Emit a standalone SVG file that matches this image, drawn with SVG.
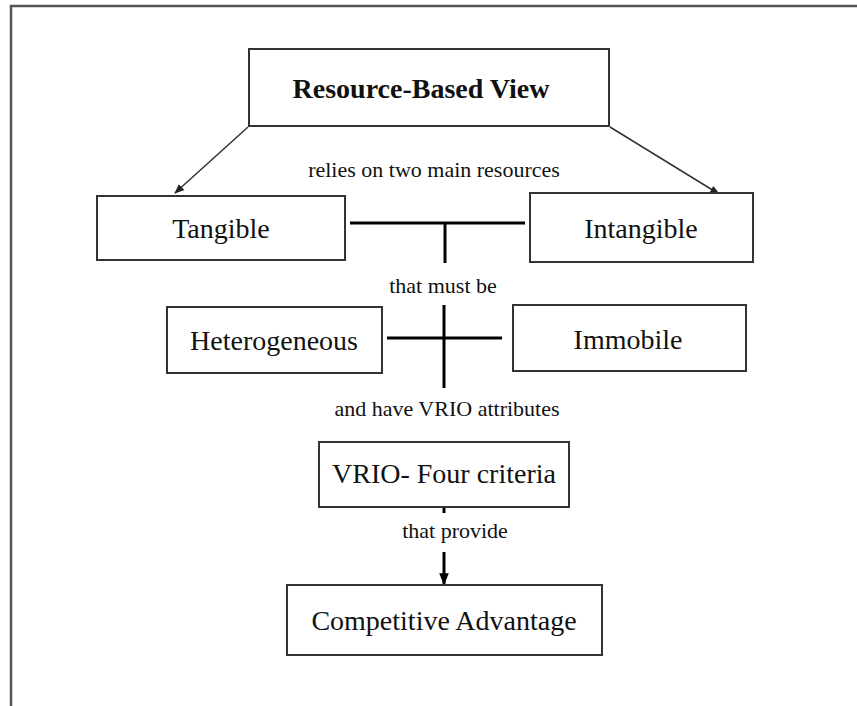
<svg xmlns="http://www.w3.org/2000/svg" width="857" height="706" viewBox="0 0 857 706">
<style>
.box{fill:#fff;stroke:#333;stroke-width:2}
.nt{font-family:"Liberation Serif","Times New Roman",serif;font-size:28px;fill:#111;text-anchor:middle}
.lb{font-family:"Liberation Serif","Times New Roman",serif;font-size:22px;fill:#111;text-anchor:middle}
.thick{stroke:#000;stroke-width:3;fill:none}
.thin{stroke:#333;stroke-width:1.5;fill:none}
</style>
<defs>
<marker id="ah" viewBox="0 0 10 10" refX="9" refY="5" markerWidth="10" markerHeight="10" markerUnits="userSpaceOnUse" orient="auto">
<path d="M0,1 L10,5 L0,9 Z" fill="#222"/>
</marker>
<marker id="ah2" viewBox="0 0 10 10" refX="9" refY="5" markerWidth="12" markerHeight="12" markerUnits="userSpaceOnUse" orient="auto">
<path d="M0,1 L10,5 L0,9 Z" fill="#000"/>
</marker>
</defs>
<rect width="857" height="706" fill="#fff"/>
<path d="M11,706 V6 H857" fill="none" stroke="#555" stroke-width="2.5"/>
<g id="connectors">
<line class="thin" x1="248" y1="127" x2="175" y2="193" marker-end="url(#ah)"/>
<line class="thin" x1="610" y1="127" x2="719" y2="194" marker-end="url(#ah)"/>
<line class="thick" x1="350" y1="223" x2="525" y2="223"/>
<line class="thick" x1="445" y1="223" x2="445" y2="263"/>
<line class="thick" x1="444" y1="305" x2="444" y2="388"/>
<line class="thick" x1="387" y1="338" x2="502" y2="338"/>
<line class="thick" x1="444" y1="507" x2="444" y2="513"/>
<line class="thick" x1="444" y1="552" x2="444" y2="584" marker-end="url(#ah2)"/>
<text class="lb" x="434" y="177">relies on two main resources</text>
<text class="lb" x="443" y="293">that must be</text>
<text class="lb" x="447" y="416">and have VRIO attributes</text>
<text class="lb" x="455" y="538">that provide</text>
</g>
<g id="rbv">
<rect class="box" x="249" y="49" width="360" height="77"/>
<text class="nt" x="421" y="98" font-weight="bold">Resource-Based View</text>
</g>
<g id="tangible">
<rect class="box" x="97" y="196" width="248" height="64"/>
<text class="nt" x="221" y="238">Tangible</text>
</g>
<g id="intangible">
<rect class="box" x="530" y="193" width="223" height="69"/>
<text class="nt" x="641" y="238">Intangible</text>
</g>
<g id="heterogeneous">
<rect class="box" x="167" y="307" width="215" height="66"/>
<text class="nt" x="274" y="350">Heterogeneous</text>
</g>
<g id="immobile">
<rect class="box" x="513" y="305" width="233" height="66"/>
<text class="nt" x="628" y="349">Immobile</text>
</g>
<g id="vrio">
<rect class="box" x="319" y="442" width="250" height="65"/>
<text class="nt" x="444" y="483">VRIO- Four criteria</text>
</g>
<g id="competitive">
<rect class="box" x="287" y="585" width="315" height="70"/>
<text class="nt" x="444" y="630">Competitive Advantage</text>
</g>
</svg>
